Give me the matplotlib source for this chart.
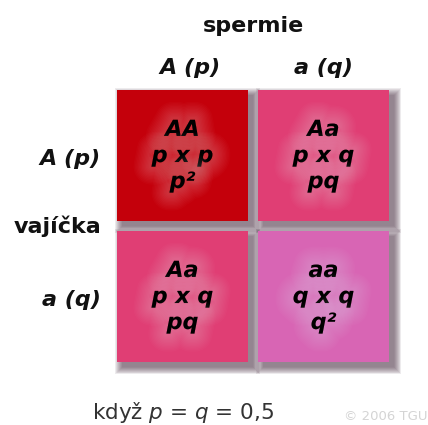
import matplotlib
matplotlib.use('Agg')
import matplotlib.pyplot as plt
from matplotlib.patches import Rectangle
import matplotlib.patheffects as pe

# ---- data ----
alleles = ['A (p)', 'a (q)']
genotypes = [['AA', 'Aa'], ['Aa', 'aa']]
products = [['p x p', 'p x q'], ['p x q', 'q x q']]
frequencies = [['p²', 'pq'], ['pq', 'q²']]
cell_colors = [['#c4000b', '#e03e74'], ['#e03e74', '#d865b4']]
col_title = 'spermie'
row_title = 'vajíčka'
footer = 'když $p$ = $q$ = 0,5'
credit = '© 2006 TGU'

plt.rcParams['font.family'] = ['DejaVu Sans']
plt.rcParams['mathtext.fontset'] = 'dejavusans'

W, H = 428, 425
fig = plt.figure(figsize=(W / 100, H / 100), dpi=100)
fig.patch.set_facecolor('white')
ax = fig.add_axes([117 / W, 1 - 372 / H, 282 / W, 282 / H])
ax.set_xlim(0, 2)
ax.set_ylim(2, 0)
ax.axis('off')

size = 131 / 141
off = 0.036

# shadows (soft, offset to bottom-right)
for r in range(2):
    for c in range(2):
        for k in range(16):
            e = k * 0.0035
            ax.add_patch(Rectangle((c + off - e, r + off - e), size + 2 * e, size + 2 * e,
                                   facecolor='#3a1a30', edgecolor='none', alpha=0.045,
                                   clip_on=False, zorder=1))

glow = [pe.Stroke(linewidth=w, foreground='white', alpha=0.02)
        for w in range(26, 2, -2)] + [pe.Normal()]

for r in range(2):
    for c in range(2):
        ax.add_patch(Rectangle((c, r), size, size, facecolor=cell_colors[r][c],
                               edgecolor='none', zorder=2, clip_on=False))
        cx = c + size / 2
        lines = [genotypes[r][c], products[r][c], frequencies[r][c]]
        for t, yo in zip(lines, (0.326, 0.511, 0.695)):
            ax.text(cx, r + yo, t, ha='center', va='baseline', fontsize=16,
                    fontweight='bold', fontstyle='italic', color='black',
                    path_effects=glow, zorder=3, clip_on=False)

# column headers
ax.text(0.965, -0.411, col_title, ha='center', va='baseline', fontsize=16,
        fontweight='bold', color='#111111', clip_on=False)
for c, lab in enumerate(alleles):
    ax.text(c + size / 2 + (0.05 if c == 0 else 0.0), -0.113, lab, ha='center', va='baseline',
            fontsize=16, fontweight='bold', fontstyle='italic', color='#111111', clip_on=False)

# row headers
for r, lab in enumerate(alleles):
    ax.text(-0.113, r + 0.532, lab, ha='right', va='baseline', fontsize=16,
            fontweight='bold', fontstyle='italic', color='#111111', clip_on=False)
ax.text(-0.113, 1.014, row_title, ha='right', va='baseline', fontsize=16,
        fontweight='bold', color='#111111', clip_on=False)

fig.text(92 / W, 1 - 419 / H, footer, ha='left', va='baseline', fontsize=15.5,
         color='#333333')
fig.text(428 / W, 1 - 420 / H, credit, ha='right', va='baseline', fontsize=9.5,
         color='#d4d4d4')

fig.savefig('out.png', dpi=100, facecolor='white')
